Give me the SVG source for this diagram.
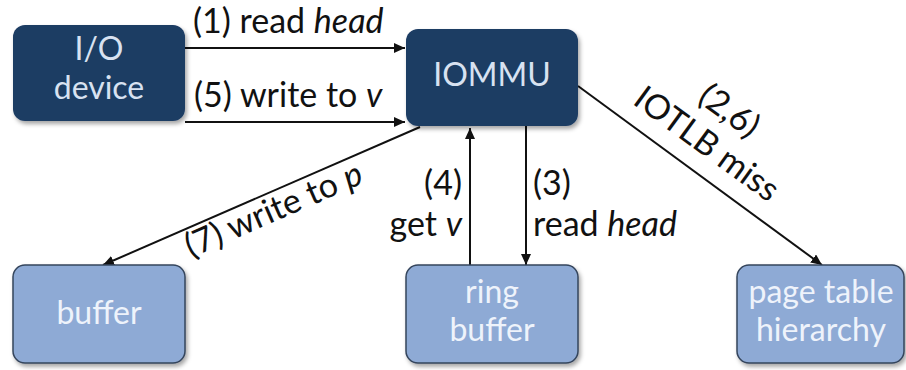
<svg xmlns="http://www.w3.org/2000/svg" width="906" height="370" viewBox="0 0 906 370">
<style>
.dark{fill:#1f3c64;}
.light{fill:#8eaad5;stroke:#34455c;stroke-width:1.5;}
.nt{font-family:Lato,"Open Sans",sans-serif;font-size:32px;text-anchor:middle;}
.dt{fill:#d8e2f1;}
.lt{fill:#eef3fb;}
.lbl{font-family:Lato,"Open Sans",sans-serif;font-size:34px;fill:#111;}
.it{font-style:italic;}
.conn{stroke:#111;stroke-width:2;fill:none;marker-end:url(#ah);}
</style>
<defs>
<marker id="ah" markerUnits="userSpaceOnUse" markerWidth="12" markerHeight="10" refX="11" refY="5" orient="auto">
<path d="M0,0 L11,5 L0,10 z" fill="#111"/>
</marker>
<filter id="sh" x="-10%" y="-10%" width="130%" height="140%">
<feDropShadow dx="2" dy="3" stdDeviation="2" flood-color="#000" flood-opacity="0.35"/>
</filter>
</defs>
<rect width="906" height="370" fill="#fff"/>
<g id="connectors">
<line class="conn" x1="185" y1="48" x2="405" y2="48"/>
<line class="conn" x1="185" y1="122" x2="405" y2="122"/>
<line class="conn" x1="420" y1="127" x2="103" y2="265"/>
<line class="conn" x1="470" y1="265" x2="470" y2="128"/>
<line class="conn" x1="526" y1="126" x2="526" y2="265"/>
<line class="conn" x1="578" y1="86" x2="822" y2="265"/>
</g>
<g id="labels">
<text class="lbl" x="193" y="33">(1) read <tspan class="it">head</tspan></text>
<text class="lbl" x="194" y="107">(5) write to <tspan class="it">v</tspan></text>
<text class="lbl" transform="translate(191,258) rotate(-23.5)">(7) write to <tspan class="it">p</tspan></text>
<text class="lbl" x="462" y="195" text-anchor="end">(4)</text>
<text class="lbl" x="462" y="236" text-anchor="end">get <tspan class="it">v</tspan></text>
<text class="lbl" x="533" y="195">(3)</text>
<text class="lbl" x="533" y="236">read <tspan class="it">head</tspan></text>
<text class="lbl" transform="translate(700,153) rotate(36)" text-anchor="middle"><tspan x="-1" y="-40">(2,6)</tspan><tspan x="0" y="0">IOTLB miss</tspan></text>
</g>
<g id="io-device">
<rect class="dark" x="13" y="25" width="172" height="96" rx="12" filter="url(#sh)"/>
<text class="nt dt" x="99" y="60">I/O</text>
<text class="nt dt" x="99" y="98.5">device</text>
</g>
<g id="iommu">
<rect class="dark" x="406" y="29" width="172" height="97" rx="12" filter="url(#sh)"/>
<text class="nt dt" x="492" y="86">IOMMU</text>
</g>
<g id="buffer">
<rect class="light" x="13" y="265" width="172" height="98" rx="12" filter="url(#sh)"/>
<text class="nt lt" x="99" y="324">buffer</text>
</g>
<g id="ring-buffer">
<rect class="light" x="406" y="265" width="172" height="98" rx="12" filter="url(#sh)"/>
<text class="nt lt" x="492" y="302.5">ring</text>
<text class="nt lt" x="492" y="341">buffer</text>
</g>
<g id="page-table">
<rect class="light" x="737" y="265" width="167" height="98" rx="12" filter="url(#sh)"/>
<text class="nt lt" x="821" y="302.5">page table</text>
<text class="nt lt" x="821" y="341">hierarchy</text>
</g>
</svg>
